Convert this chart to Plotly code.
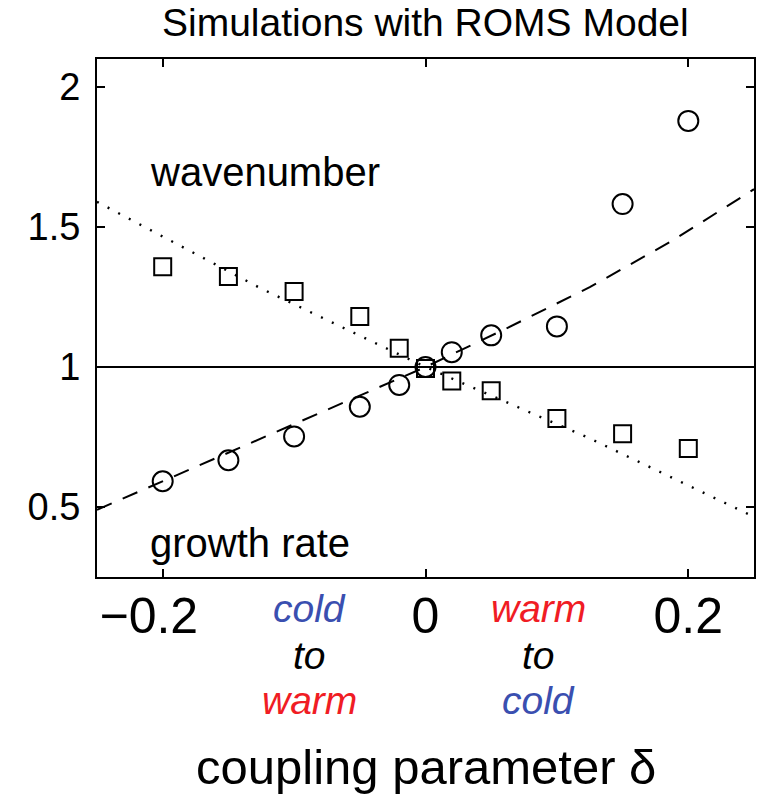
import plotly.graph_objects as go

# data
delta = [-0.2, -0.15, -0.1, -0.05, -0.02, 0.0, 0.02, 0.05, 0.1, 0.15, 0.2]
wavenumber = [1.358, 1.323, 1.27, 1.18, 1.067, 0.995, 0.95, 0.915, 0.816, 0.762, 0.709]
growth_rate = [0.592, 0.667, 0.752, 0.858, 0.936, 1.0, 1.053, 1.113, 1.145, 1.582, 1.879]

theory_growth_x = [-0.25, -0.125, 0.0, 0.0625, 0.125, 0.1875, 0.25]
theory_growth = [0.49, 0.745, 1.0, 1.14, 1.285, 1.45, 1.635]
theory_wave_x = [-0.25, -0.125, 0.0, 0.125, 0.25]
theory_wave = [1.59, 1.28, 1.0, 0.745, 0.465]

ref_x = [-0.25, 0.25]
ref_y = [1.0, 1.0]

xticks = [-0.2, 0, 0.2]
xticklabels = ["\u22120.2\u00a0\u00a0", "0", "0.2"]
yticks = [0.5, 1, 1.5, 2]
yticklabels = ["0.5", "1", "1.5", "2"]

FONT = "Liberation Sans, Arial, sans-serif"
BLUE = "#3a4fb0"
RED = "#f01c24"

fig = go.Figure()
fig.add_trace(go.Scatter(x=ref_x, y=ref_y, mode="lines",
                         line=dict(color="black", width=2), showlegend=False))
fig.add_trace(go.Scatter(x=theory_growth_x, y=theory_growth, mode="lines",
                         line=dict(color="black", width=2, dash="16px,12px"), showlegend=False))
fig.add_trace(go.Scatter(x=theory_wave_x, y=theory_wave, mode="lines",
                         line=dict(color="black", width=2.4, dash="2px,10px"), showlegend=False))
fig.add_trace(go.Scatter(x=delta, y=wavenumber, mode="markers",
                         marker=dict(symbol="square-open", size=17, color="black",
                                     line=dict(width=2, color="black")), showlegend=False))
fig.add_trace(go.Scatter(x=delta, y=growth_rate, mode="markers",
                         marker=dict(symbol="circle-open", size=20, color="black",
                                     line=dict(width=2, color="black")), showlegend=False))

annos = [
    dict(x=-0.211, y=1.695, xref="x", yref="y", text="wavenumber", xanchor="left",
         yanchor="middle", font=dict(size=40)),
    dict(x=-0.211, y=0.372, xref="x", yref="y", text="growth rate", xanchor="left",
         yanchor="middle", font=dict(size=40)),
    dict(x=-0.0885, y=-0.06, xref="x", yref="paper", text="<i>cold</i>", font=dict(size=39, color=BLUE)),
    dict(x=-0.0885, y=-0.1506, xref="x", yref="paper", text="<i>to</i>", font=dict(size=39, color="black")),
    dict(x=-0.0885, y=-0.2375, xref="x", yref="paper", text="<i>warm</i>", font=dict(size=39, color=RED)),
    dict(x=0.086, y=-0.06, xref="x", yref="paper", text="<i>warm</i>", font=dict(size=39, color=RED)),
    dict(x=0.086, y=-0.1506, xref="x", yref="paper", text="<i>to</i>", font=dict(size=39, color="black")),
    dict(x=0.086, y=-0.2375, xref="x", yref="paper", text="<i>cold</i>", font=dict(size=39, color=BLUE)),
    dict(x=0.0, y=-0.367, xref="x", yref="paper", text="coupling parameter \u03b4",
         font=dict(size=49, color="black")),
    dict(x=0.0, y=1.0714, xref="x", yref="paper", text="Simulations with ROMS Model",
         yanchor="middle", font=dict(size=39, color="black")),
]
for a in annos:
    a.setdefault("showarrow", False)
    a.setdefault("xanchor", "center")
    a.setdefault("yanchor", "middle")
    fig.add_annotation(**a)

fig.update_layout(
    width=763, height=795,
    margin=dict(l=97, r=7, t=59, b=218),
    paper_bgcolor="white", plot_bgcolor="white",
    font=dict(family=FONT, color="black"),
)
fig.update_xaxes(range=[-0.25, 0.25], tickvals=xticks, ticktext=xticklabels,
                 showgrid=False, zeroline=False, showline=True, linecolor="black", linewidth=2,
                 mirror="ticks", ticks="inside", ticklen=8, tickwidth=2, tickcolor="black",
                 tickfont=dict(size=50, family=FONT), ticklabelstandoff=-6)
fig.update_yaxes(range=[0.25, 2.1], tickvals=yticks, ticktext=yticklabels,
                 showgrid=False, zeroline=False, showline=True, linecolor="black", linewidth=2,
                 mirror="ticks", ticks="inside", ticklen=8, tickwidth=2, tickcolor="black",
                 tickfont=dict(size=38, family=FONT), ticklabelstandoff=7)

fig.write_html("out.html")
